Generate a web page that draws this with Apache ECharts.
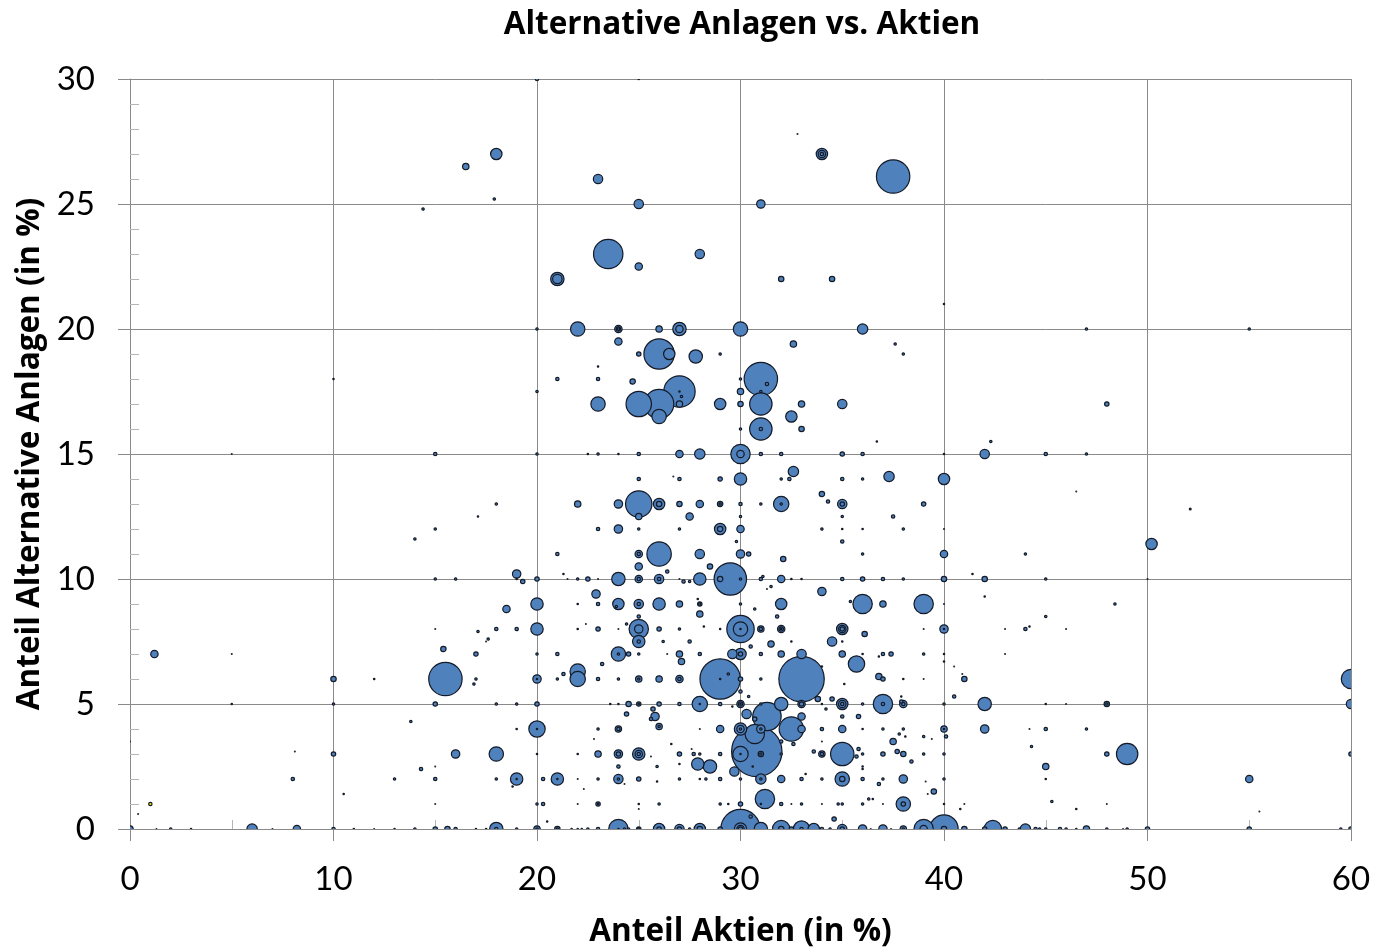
<!DOCTYPE html>
<html>
<head>
<meta charset="utf-8">
<title>Alternative Anlagen vs. Aktien</title>
<script src="https://cdn.jsdelivr.net/npm/echarts@6/dist/echarts.min.js"></script>
<style>
html, body { margin: 0; padding: 0; background: #fff; }
#chart { width: 1373px; height: 950px; }
</style>
</head>
<body>
<div id="chart"></div>
<script>
var xTicks = [0, 10, 20, 30, 40, 50, 60];
var yTicks = [0, 5, 10, 15, 20, 25, 30];

// [Anteil Aktien, Anteil Alternative Anlagen, Volumen]
var bubblesOben = [
    [20,30,16],[25,30,4],[32.8,27.8,2],[18,27,144],[16.5,26.5,49],[23,26,100],[34,27,144],[34,27,64],[34,27,16],
    [37.5,26.1,1156],[17.9,25.2,9],[14.4,24.8,9],[25,25,100],[31,25,81],[23.5,23,900],[28,23,100],[25,22.5,64],
    [21,22,196],[21,22,100],[32,22,36],[34.5,22,36],[40,21,4],[20,20,9],[22,20,225],[24,20,64],[24,20,25],[24,20,9],
    [26,20,49],[27,20,196],[27,20,64],[30,20,225],[36,20,121],[47,20,9],[55,20,9],[24,19.5,64],[26,19,961],
    [26.5,19,144],[25,19,25],[27.8,18.9,196],[29,19,9],[32.6,19.4,49],[37.6,19.4,9],[38,19,9],[23,18.5,4],[10,18,4],
    [21,18,16],[23,18,16],[24.7,17.9,36],[27,17.5,1024],[27,17.5,4],[27.1,17.3,9],[27,17,49],[20,17.5,9],[31,18,1156],
    [31.3,17.8,16],[30,18,9],[30,17.5,49],[31,17.5,9],[30,17,36],[31,17,529],[33,17,49],[35,17,100],[29,17,144],
    [23,17,225],[25,17,676],[26,17,900],[26,16.5,225],[32.5,16.5,144],[31,16,529],[31,16,16],[30,16,9],[33,16,36],
    [48,17,25],[36.7,15.5,4],[42.3,15.5,9],[15,15,16],[20,15,9],[22.5,15,4],[23,15,9],[24,15,4],[25,15,16],[27,15,64],
    [28,15,121],[30,15,400],[30,15,64],[31,15,16],[32,15,16],[35,15,25],[36,15,16],[40,15,4],[42,15,100],[45,15,16],
    [47,15,9],[5,15,2],[25,14,16],[26.7,14.1,2],[27,14,16],[29,14,25],[30,14,169],[32,14,9],[32.4,14,16],[32.6,14.3,121],
    [35,14,16],[36,14,9],[37.3,14.1,121],[40,14,144]
];

var bubblesMitte = [
    [46.5,13.5,2],[52.1,12.8,6],[18,13,9],[22,13,49],[24,13,81],[25,13,729],[26,13,144],[26,13,36],[27,13,36],[28,13,64],
    [29,13,36],[29,13,9],[30,13,16],[31,13,9],[32,13,256],[32,13,9],[34,13.4,36],[34.3,13.1,16],[35,13,100],[35,13,25],
    [39,13,25],[17.1,12.5,4],[25,12.5,49],[27.5,12.5,64],[30,12.5,9],[35,12.5,9],[37.5,12.5,16],[15,12,9],[23,12,16],
    [24,12,81],[25,12,9],[27,12,9],[29,12,144],[29,12,36],[30,12,64],[34,12,9],[35,12,4],[36,12,4],[38,12,9],[40,12,2],
    [14,11.6,9],[29.8,11.5,9],[35,11.5,16],[50.2,11.4,144],[21,11,16],[25,11,64],[25,11,16],[26,11,625],[28,11,100],
    [30,11,81],[30.4,11,25],[32.1,10.8,36],[36,11,9],[40,11,64],[44,11,9],[25,10.5,64],[28.5,10.5,36],[26.4,10.3,16],
    [19,10.2,81],[19.3,9.9,25],[19,10,4],[15,10,9],[16,10,9],[20,10,25],[21.3,10.2,4],[21.5,10,2],[22,10,9],[22.5,10,25],
    [23,10,2],[24,10,196],[25,10,64],[25,10,16],[26,10,100],[26,10,16],[27,10,2],[27.2,9.9,16],[27.5,9.9,9],[28,10,169],
    [29.5,10,1089],[29,10,36],[30,10,9],[31,10,16],[31.1,10.1,9],[32,10,64],[32.5,10,4],[33,10,4],[35,10,16],[36,10,25],
    [37,10,16],[38,10,9],[40,10,36],[41.4,10.2,4],[42,10,36],[45,10,9],[50,10,2],[22.9,9.4,81],[31.5,9.7,9],[31.3,9.6,2],
    [34,9.5,81],[42,9.3,4],[18.5,8.8,64],[20,9,169],[22,9,4],[23,9,16],[24,9,144],[23.9,8.9,9],[25,9,100],[25,9,16],
    [26,9,169],[27,9,49],[28,9,25],[28,9,9],[27.9,9.2,4],[30,9,9],[30.7,8.8,9],[32,9,144],[35.4,9.1,9],[36,9,400],[37,9,49],
    [39,9,400],[40,9,2],[48.4,9,9],[25,8.5,16],[28,8.6,49],[31.8,8.5,16],[45,8.5,9],[15,8,2],[17.1,7.9,9],[18,8,16],[19,8,16],
    [20,8,169],[22,8,4],[22.4,8.2,2],[23,8,25],[24,8,2],[25,8,400],[25,8,81],[24.4,8.2,9],[26,8,25],[27,8,9],[28.2,8.1,4],
    [29,8,4],[30,8,784],[30,8,225],[30,8,4],[31,8,49],[31,8,16],[32,8,64],[32,8,25],[32,8,4],[35,8,144],[35,8,64],[35,8,25],
    [36.1,7.8,36],[39,8,2],[40,8,81],[40,8,4],[43,8,2],[44,8,16],[44.2,8.1,4],[46,8,2],[17.6,7.6,9],[17.5,7.5,2],[25,7.5,169],
    [25,7.5,16],[26.2,7.5,9],[27.5,7.5,16],[30.5,7.3,16],[31.5,7.4,49],[32.5,7.5,4],[34.5,7.5,100],[35,7.5,4],[15.4,7.2,36],
    [1.2,7,64],[5,7,2],[17,7,25],[20,7,9],[21,7,16],[24,7,225],[24,7,9],[24.5,7,25],[25,7,9],[26.4,7,2],[27,7,49],[28,7,16],
    [27.1,6.7,49],[29.6,7,100],[30,7,144],[30,7,25],[31,7,16],[32,7,49],[33,7,100],[35,7,49],[36,7,4],[36.8,6.9,4],[37,7,16],
    [37.4,7,25],[39,7,9],[40,7,4],[43,7,2],[40,6.7,4],[23.2,6.6,16],[35.7,6.6,289],[40.5,6.5,2],[34,6.5,4],[10,6,36],[12,6,4],
    [15.5,6,1156],[17,6,9],[16.9,5.8,9],[20,6,81],[20,6,4],[21,6,9],[21.3,6.2,16],[22,6.3,256],[22,6,256],[23,6,16],[24,6,9],
    [25,6,49],[25,6,9],[26,6,49],[27,6,64],[27,6,16],[29,6,1681],[29.4,6.2,9],[29,6,4],[30,6,25],[31,6,9],[33,6,2116],
    [36.8,6.1,49],[37,6,25],[38,6,4],[39,6,2],[40.9,6.2,2],[41,6,36],[60,6,400]
];

var bubblesUnten = [
    [35.1,5.8,4],[30,5.5,16],[30.4,5.3,9],[37.9,5.3,4],[40.5,5.3,16],[5,5,4],[10,5,9],[15,5,25],[18,5,9],[19,5,9],[20,5,25],
    [23.6,5,4],[24,5,4],[24.5,5,36],[25,5,25],[25,5,4],[26,5,25],[27,5,16],[28,5,256],[28,5,4],[29,5,16],[29.6,4.9,4],
    [30,5,64],[30,5,25],[30,5,4],[31,5,9],[32,5,196],[33,5,64],[33,5,25],[33.8,5.2,36],[34.5,5.2,25],[34,5,4],[35,5,144],
    [35,5,64],[35,5,16],[36,5,9],[37,5,400],[37,5,16],[38,5,64],[38,5,16],[37.9,5.1,16],[40,5,9],[42,5,196],[45,5,4],[46,5,2],
    [48,5,36],[48,5,9],[60,5,100],[25.7,4.8,25],[24.4,4.6,25],[25.8,4.5,81],[25.6,4.4,16],[30.3,4.6,100],[31.3,4.5,841],
    [33,4.5,64],[34.2,4.8,9],[35,4.5,16],[35.8,4.5,25],[30.7,4.4,25],[13.8,4.3,9],[19,4,4],[20,4,289],[20,4,4],[23,4,9],
    [24,4,49],[24,4,16],[26,4.1,49],[26,4.1,9],[28,4,2],[29,4,64],[30,4,169],[30,4,64],[30,4,9],[31,4,81],[31,4,9],
    [32.5,4,625],[33,4,64],[34,4,16],[35,4,64],[36,4,4],[37,4,9],[38,4,9],[40,4,49],[40,4,4],[42,4,81],[44.2,4,2],[45,4,16],
    [47,4,9],[30.7,3.8,400],[37.8,3.8,9],[39,3.7,9],[40.1,3.7,16],[37.5,3.5,49],[38.1,3.7,4],[39.4,3.6,2],[22.8,3.6,2],
    [26.6,3.4,4],[32.6,3.4,16],[32,3.5,16],[34,3.5,2],[0,3.5,2],[44.3,3.3,9],[8.1,3.1,2],[10,3,25],[16,3,81],[18,3,225],
    [20,3,4],[22,3,4],[23,3,49],[24,3,81],[24,3,25],[25,3,169],[25,3,64],[25,3,16],[25.6,2.9,2],[27,3,25],[27.7,3,16],
    [28,3,9],[27.6,3.2,2],[29,3,16],[30,3,256],[30,3,4],[30.8,3.1,2601],[31,3,36],[31,3,9],[32,3,9],[33.6,3.1,16],[34,3,49],
    [34,3,16],[35,3,576],[35.8,3.2,16],[35.7,2.9,16],[36,3,9],[37,3,25],[37.7,3.1,25],[38,3,36],[39,3,9],[40,3,9],[48,3,25],
    [49,3,484],[60,3,25],[14.3,2.4,16],[15,2.5,2],[24,2.5,16],[25.9,2.5,9],[27,2.6,4],[27.9,2.6,169],[28.5,2.5,196],
    [30.6,2.5,4],[29.7,2.3,100],[36,2.5,4],[36,2.4,4],[38.4,2.7,16],[45,2.5,49],[33.2,2.2,4],[8,2,16],[13,2,9],[15,2,16],
    [18,2,9],[19,2,169],[19,2,4],[18.8,1.7,4],[20.3,2,16],[21,2,169],[21,2,4],[22,2,2],[23,2,9],[24,2,100],[24,2,9],[24.3,1.8,2],
    [25,2,25],[25.9,1.9,4],[27,2,9],[28,2,4],[28.3,2,9],[29,2,16],[30,2,9],[31,2,121],[31,2,9],[32,2,64],[33,2,16],[34,2,9],
    [35,2,225],[35,2,36],[36,2,16],[36.8,1.8,16],[37,2,9],[38,2,81],[39.1,1.9,2],[40,2,9],[45,2,4],[55,2,64],[10.5,1.4,4],
    [22.3,1.6,2],[39.5,1.5,36],[36.3,1.2,9],[36.5,1.2,4],[39.2,1.4,2],[45.3,1.1,9],[15,1,2],[20,1,9],[20.3,1,16],[22,1,2],
    [23,1,25],[23,1,4],[25,1,4],[25,0.8,2],[26,1,9],[29,1,9],[29.4,1,4],[30,1,25],[31,1,4],[31.2,1.2,400],[32,1,16],
    [32.5,1,2],[33,1,9],[34,1,2],[34.8,1,9],[35,1,9],[36,1,9],[37,1,2],[38,1,225],[38,1,25],[40,1,4],[40.8,0.8,4],[41,1,2],
    [46.5,0.8,4],[48,1,2],[55.5,0.7,2],[0.4,0.6,2],[20.5,0.3,4],[30.5,0.5,16],[34.6,0.4,25]
];

var bubblesNull = [
    [0,0,49],[1.3,0,2],[2,0,9],[3,0,4],[6,0,121],[7,0,2],[8.2,0,64],[10,0,16],[11,0,4],[12,0,2],[13,0,4],[14,0,9],[15,0,25],
    [15.6,0,36],[16,0,16],[17,0,4],[17.5,0,4],[18,0,196],[18,0,16],[19,0,9],[20,0,49],[20,0,9],[21,0,36],[21,0,9],[21.7,0,4],
    [22,0,4],[22.2,0,4],[22.5,0,9],[23,0,16],[24,0,400],[24,0,4],[24.3,0,9],[24.5,0,9],[25,0,25],[25,0,9],[26,0,144],[26,0,25],
    [27,0,100],[27,0,25],[27.5,0,9],[28,0,144],[28,0,36],[29,0,25],[30,0,1600],[30,0,169],[30,0,64],[30,0,25],[31,0,196],
    [32,0,324],[32,0,36],[32.5,0,25],[33,0,289],[33,0,16],[33.6,0,144],[34,0,16],[34.4,0,9],[35,0,100],[35,0,25],[36,0,81],
    [36.4,0,2],[37,0,81],[37.4,0,2],[38,0,49],[38,0,9],[39,0,400],[39,0,64],[40,0,841],[40,0,36],[41,0,36],[42,0,25],[42.4,0,324],
    [43,0,25],[43.7,0,9],[44,0,121],[44.5,0,16],[44.7,0,9],[45,0,9],[45.7,0,16],[46,0,9],[46.5,0,4],[47,0,49],[48,0,9],[48.8,0,2],
    [49,0,9],[50,0,25],[55,0,25],[59.5,0,9],[60,0,25]
];

// the one yellow point near the origin
var bubblesGelb = [[1,1,16]];

var bubbles = bubblesOben.concat(bubblesMitte, bubblesUnten, bubblesNull);
// big ones first, otherwise the small rings end up hidden
bubbles.sort(function(a, b){ return b[2] - a[2]; });

var labelFont = 'Lato, "Open Sans", sans-serif';
var titleFont = '"Open Sans", sans-serif';

// custom series because a scatter series does not cut the circles at the plot edge
var bubbleRenderer = function(fillColor){
    return function(params, api){
        var pos = api.coord([api.value(0), api.value(1)]);
        return {
            type: 'circle',
            shape: {cx: pos[0], cy: pos[1], r: Math.sqrt(api.value(2)) / 2 - 0.3},
            style: {fill: fillColor, stroke: '#141a26', lineWidth: 1.2}
        };
    };
};

var myChart = echarts.init(document.getElementById('chart'), null, {renderer: 'canvas'});
myChart.setOption({
    backgroundColor: '#ffffff',
    animation: false,
    title: {
        text: 'Alternative Anlagen vs. Aktien',
        left: 737,
        top: 4,
        textAlign: 'center',
        textStyle: {fontFamily: titleFont, fontSize: 31.5, fontWeight: 'bold', color: '#000'}
    },
    grid: {left: 130, top: 79, width: 1221, height: 750, outerBoundsMode: 'none'},
    xAxis: {
        type: 'value',
        min: xTicks[0],
        max: xTicks[xTicks.length - 1],
        interval: 10,
        name: 'Anteil Aktien (in %)',
        nameLocation: 'middle',
        nameGap: 87,
        nameTextStyle: {fontFamily: titleFont, fontSize: 31.5, fontWeight: 'bold', color: '#000'},
        axisLine: {onZero: false, lineStyle: {color: '#8a8a8a', width: 1}},
        axisTick: {length: 12, lineStyle: {color: '#8a8a8a', width: 1}},
        minorTick: {show: true, splitNumber: 2, length: -9, lineStyle: {color: '#b5b5b5', width: 1}},
        axisLabel: {margin: 34, fontFamily: labelFont, fontSize: 33, color: '#000'},
        splitLine: {show: true, lineStyle: {color: '#8a8a8a', width: 1}}
    },
    yAxis: {
        type: 'value',
        min: yTicks[0],
        max: yTicks[yTicks.length - 1],
        interval: 5,
        name: 'Anteil Alternative Anlagen (in %)',
        nameLocation: 'middle',
        nameGap: 84,
        nameTextStyle: {fontFamily: titleFont, fontSize: 31.5, fontWeight: 'bold', color: '#000'},
        axisLine: {onZero: false, lineStyle: {color: '#8a8a8a', width: 1}},
        axisTick: {length: 12, lineStyle: {color: '#8a8a8a', width: 1}},
        minorTick: {show: true, splitNumber: 5, length: -9, lineStyle: {color: '#b5b5b5', width: 1}},
        axisLabel: {margin: 35, fontFamily: labelFont, fontSize: 33, color: '#000'},
        splitLine: {show: true, lineStyle: {color: '#8a8a8a', width: 1}}
    },
    series: [{
        type: 'custom',
        name: 'Anlagen',
        clip: true,
        data: bubbles,
        encode: {x: 0, y: 1},
        renderItem: bubbleRenderer('#4f81bd')
    }, {
        type: 'custom',
        name: 'Sonstige',
        clip: true,
        data: bubblesGelb,
        encode: {x: 0, y: 1},
        renderItem: bubbleRenderer('#ffe600')
    }]
});
</script>
</body>
</html>
